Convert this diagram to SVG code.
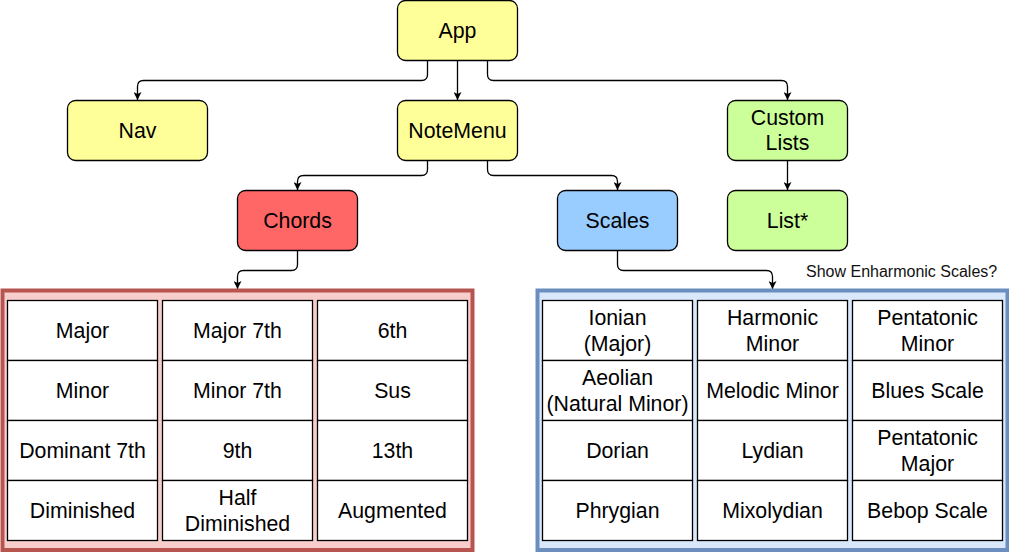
<svg xmlns="http://www.w3.org/2000/svg" width="1009" height="553" viewBox="0 0 1009 553">
<style>
text{font-family:"Liberation Sans",Arial,sans-serif;font-size:21.3px;fill:#000;text-anchor:middle}
.node{stroke:#000;stroke-width:1.3}
.yel{fill:#ffff99}.red{fill:#ff6666}.blue{fill:#99ccff}.green{fill:#ccff99}
.cell{fill:#fff;stroke:#000;stroke-width:1.3}
.edge{fill:none;stroke:#000;stroke-width:1.3}
.note{font-size:16px;text-anchor:start;fill:#111}
</style>
<defs>
<marker id="arr" viewBox="0 0 10 10" refX="10" refY="5" markerWidth="8" markerHeight="8" markerUnits="userSpaceOnUse" orient="auto">
<path d="M0,0 L10,5 L0,10 L2.5,5 z" fill="#000"/>
</marker>
</defs>
<rect width="1009" height="553" fill="#fff"/>
<g id="connectors">
<path class="edge" marker-end="url(#arr)" d="M427.5 60.5 V74.5 Q427.5 80.5 421.5 80.5 H143.5 Q137.5 80.5 137.5 86.5 V100"/>
<path class="edge" marker-end="url(#arr)" d="M457.5 60.5 V100"/>
<path class="edge" marker-end="url(#arr)" d="M487.5 60.5 V74.5 Q487.5 80.5 493.5 80.5 H781.5 Q787.5 80.5 787.5 86.5 V100"/>
<path class="edge" marker-end="url(#arr)" d="M427.5 160.5 V169.5 Q427.5 175.5 421.5 175.5 H303.5 Q297.5 175.5 297.5 181.5 V190"/>
<path class="edge" marker-end="url(#arr)" d="M487.5 160.5 V169.5 Q487.5 175.5 493.5 175.5 H611.5 Q617.5 175.5 617.5 181.5 V190"/>
<path class="edge" marker-end="url(#arr)" d="M787.5 160.5 V190"/>
<path class="edge" marker-end="url(#arr)" d="M297.5 250.5 V264.5 Q297.5 270.5 291.5 270.5 H243.5 Q237.5 270.5 237.5 276.5 V289"/>
<path class="edge" marker-end="url(#arr)" d="M617.5 250.5 V264.5 Q617.5 270.5 623.5 270.5 H766.5 Q772.5 270.5 772.5 276.5 V289"/>
</g>
<g id="app"><rect class="node yel" x="397.5" y="0.5" width="120" height="60" rx="8"/><text x="457.5" y="37.5">App</text></g>
<g id="nav"><rect class="node yel" x="67.5" y="100.5" width="140" height="60" rx="8"/><text x="137.5" y="137.5">Nav</text></g>
<g id="notemenu"><rect class="node yel" x="397.5" y="100.5" width="120" height="60" rx="8"/><text x="457.5" y="137.5">NoteMenu</text></g>
<g id="customlists"><rect class="node green" x="727.5" y="100.5" width="120" height="60" rx="8"/><text x="787.5" y="125">Custom</text><text x="787.5" y="150.3">Lists</text></g>
<g id="chords"><rect class="node red" x="237.5" y="190.5" width="120" height="60" rx="8"/><text x="297.5" y="227.5">Chords</text></g>
<g id="scales"><rect class="node blue" x="557.5" y="190.5" width="120" height="60" rx="8"/><text x="617.5" y="227.5">Scales</text></g>
<g id="list"><rect class="node green" x="727.5" y="190.5" width="120" height="60" rx="8"/><text x="787.5" y="227.5">List*</text></g>
<text class="note" x="806" y="276.5">Show Enharmonic Scales?</text>
<g id="chordTable">
<rect x="2.5" y="290.5" width="470" height="259.5" fill="#f8cecc" stroke="#b85450" stroke-width="4"/>
<rect class="cell" x="7.5" y="300.5" width="150" height="60"/><text x="82.5" y="338">Major</text>
<rect class="cell" x="7.5" y="360.5" width="150" height="60"/><text x="82.5" y="398">Minor</text>
<rect class="cell" x="7.5" y="420.5" width="150" height="60"/><text x="82.5" y="458">Dominant 7th</text>
<rect class="cell" x="7.5" y="480.5" width="150" height="60"/><text x="82.5" y="518">Diminished</text>
<rect class="cell" x="162.5" y="300.5" width="150" height="60"/><text x="237.5" y="338">Major 7th</text>
<rect class="cell" x="162.5" y="360.5" width="150" height="60"/><text x="237.5" y="398">Minor 7th</text>
<rect class="cell" x="162.5" y="420.5" width="150" height="60"/><text x="237.5" y="458">9th</text>
<rect class="cell" x="162.5" y="480.5" width="150" height="60"/><text x="237.5" y="505.4">Half</text><text x="237.5" y="530.7">Diminished</text>
<rect class="cell" x="317.5" y="300.5" width="150" height="60"/><text x="392.5" y="338">6th</text>
<rect class="cell" x="317.5" y="360.5" width="150" height="60"/><text x="392.5" y="398">Sus</text>
<rect class="cell" x="317.5" y="420.5" width="150" height="60"/><text x="392.5" y="458">13th</text>
<rect class="cell" x="317.5" y="480.5" width="150" height="60"/><text x="392.5" y="518">Augmented</text>
</g>
<g id="scaleTable">
<rect x="537.5" y="290.5" width="470" height="259.5" fill="#dae8fc" stroke="#6c8ebf" stroke-width="4"/>
<rect class="cell" x="542.5" y="300.5" width="150" height="60"/><text x="617.5" y="325.4">Ionian</text><text x="617.5" y="350.7">(Major)</text>
<rect class="cell" x="542.5" y="360.5" width="150" height="60"/><text x="617.5" y="385.4">Aeolian</text><text x="617.5" y="410.7">(Natural Minor)</text>
<rect class="cell" x="542.5" y="420.5" width="150" height="60"/><text x="617.5" y="458">Dorian</text>
<rect class="cell" x="542.5" y="480.5" width="150" height="60"/><text x="617.5" y="518">Phrygian</text>
<rect class="cell" x="697.5" y="300.5" width="150" height="60"/><text x="772.5" y="325.4">Harmonic</text><text x="772.5" y="350.7">Minor</text>
<rect class="cell" x="697.5" y="360.5" width="150" height="60"/><text x="772.5" y="398">Melodic Minor</text>
<rect class="cell" x="697.5" y="420.5" width="150" height="60"/><text x="772.5" y="458">Lydian</text>
<rect class="cell" x="697.5" y="480.5" width="150" height="60"/><text x="772.5" y="518">Mixolydian</text>
<rect class="cell" x="852.5" y="300.5" width="150" height="60"/><text x="927.5" y="325.4">Pentatonic</text><text x="927.5" y="350.7">Minor</text>
<rect class="cell" x="852.5" y="360.5" width="150" height="60"/><text x="927.5" y="398">Blues Scale</text>
<rect class="cell" x="852.5" y="420.5" width="150" height="60"/><text x="927.5" y="445.4">Pentatonic</text><text x="927.5" y="470.7">Major</text>
<rect class="cell" x="852.5" y="480.5" width="150" height="60"/><text x="927.5" y="518">Bebop Scale</text>
</g>
</svg>
